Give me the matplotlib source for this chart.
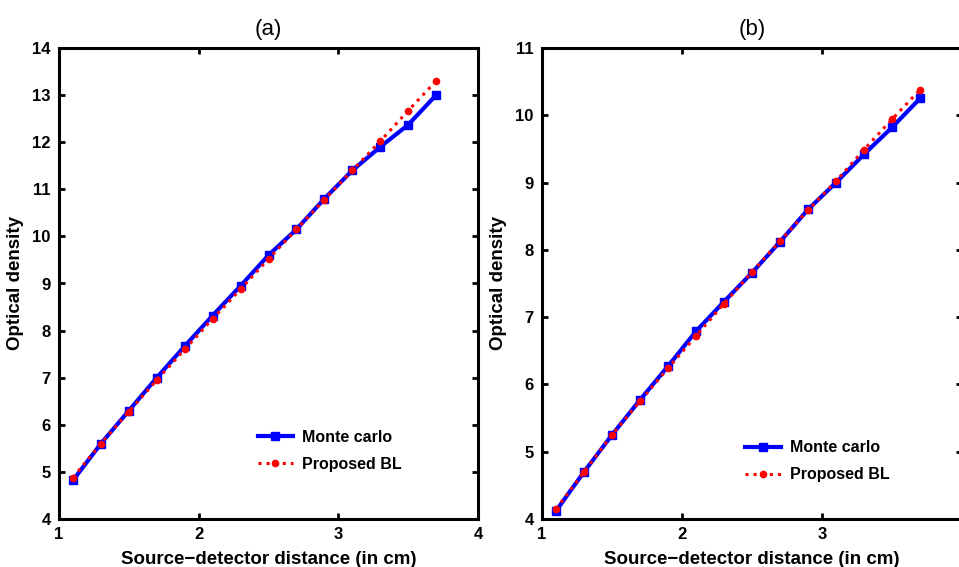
import numpy as np
import matplotlib
matplotlib.use("Agg")
import matplotlib.pyplot as plt

plt.rcParams['font.family'] = ['Liberation Sans', 'DejaVu Sans']

# source-detector distance (cm)
dist = [1.1, 1.3, 1.5, 1.7, 1.9, 2.1, 2.3, 2.5, 2.7, 2.9, 3.1, 3.3, 3.5, 3.7]

# panel (a)
mc_a = [4.82, 5.6, 6.3, 7.0, 7.67, 8.32, 8.95, 9.6, 10.15, 10.8, 11.4, 11.9, 12.37, 13.0]
bl_a = [4.88, 5.6, 6.28, 6.95, 7.6, 8.25, 8.88, 9.52, 10.15, 10.78, 11.4, 12.02, 12.67, 13.3]

# panel (b)
mc_b = [4.12, 4.7, 5.25, 5.77, 6.27, 6.79, 7.23, 7.66, 8.12, 8.6, 9.0, 9.42, 9.82, 10.25]
bl_b = [4.15, 4.7, 5.25, 5.75, 6.24, 6.72, 7.2, 7.67, 8.13, 8.59, 9.02, 9.49, 9.94, 10.38]

xticks = [1, 2, 3, 4]

W, H = 959, 567
fig = plt.figure(figsize=(W/100, H/100), dpi=100)

def panel(left, right, mc, bl, ylim, title, leg_x, leg_y, xlabels):
    ax = fig.add_axes([left/W, (H-519)/H, (right-left)/W, (519-48)/H])
    ax.plot(dist, mc, color='blue', lw=3, marker='s', ms=5.5, label='Monte carlo')
    ax.plot(dist, bl, color='red', lw=2.2, ls=':', marker='o', ms=4.5, label='Proposed BL')
    ax.set_xlim(1, 4)
    ax.set_ylim(*ylim)
    ax.set_xticks(xticks)
    ax.set_xticklabels(xlabels)
    ax.set_yticks(np.arange(ylim[0], ylim[1] + 1))
    ax.tick_params(direction='in', top=True, right=True, length=4, width=2,
                   labelsize=12, pad=6)
    for t in ax.get_xticklabels() + ax.get_yticklabels():
        t.set_fontweight('bold')
    for s in ax.spines.values():
        s.set_linewidth(2.2)
    ax.set_xlabel('Source\u2212detector distance (in cm)', fontsize=13.5, fontweight='bold', labelpad=6)
    ax.set_ylabel('Optical density', fontsize=13.5, fontweight='bold', labelpad=6)
    ax.set_title(title, fontsize=16, pad=9)
    ax.legend(loc='upper left', bbox_to_anchor=(leg_x, leg_y), frameon=False,
              prop={'weight': 'bold', 'size': 11.5}, handlelength=2.2, handletextpad=0.6,
              labelspacing=0.75)
    return ax

panel(59, 478, mc_a, bl_a, (4, 14), '(a)', 0.44, 0.22, [str(v) for v in xticks])
panel(542, 962, mc_b, bl_b, (4, 11), '(b)', 0.45, 0.198, [str(v) for v in xticks[:-1]] + [''])

fig.savefig('out.png', dpi=100)
